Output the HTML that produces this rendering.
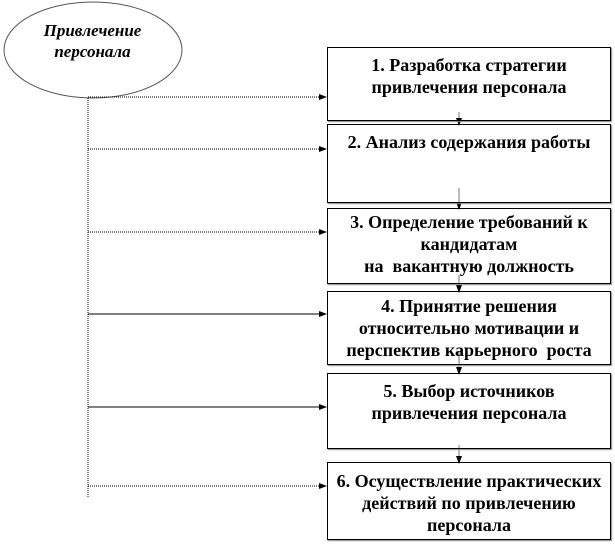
<!DOCTYPE html><html><head><meta charset="utf-8"><style>
body{margin:0;width:615px;height:544px;background:#fff;position:relative;overflow:hidden;font-family:"Liberation Serif",serif}
.b{position:absolute;left:327px;width:284px;border:1px solid #000;box-sizing:border-box;text-align:center;font-weight:bold;font-size:18px;line-height:22px;padding-top:6px;box-shadow:1px 1px 1px #888;white-space:nowrap}
</style></head><body>
<svg width="615" height="544" style="position:absolute;left:0;top:0">
<defs><marker id="a" markerWidth="8" markerHeight="8" refX="7" refY="4" orient="auto" markerUnits="userSpaceOnUse"><path d="M0,1 L8,4 L0,7z" fill="#000"/></marker></defs>
<ellipse cx="93" cy="50" rx="89" ry="48" fill="#fff" stroke="#555" stroke-width="1"/>
<line x1="88" y1="98" x2="88" y2="497" stroke="#000" stroke-dasharray="1,1"/>
<g stroke="#000" stroke-dasharray="1,1" marker-end="url(#a)">
<line x1="88" y1="97" x2="326" y2="97"/><line x1="88" y1="149" x2="326" y2="149"/><line x1="88" y1="232" x2="326" y2="232"/>
<line x1="88" y1="486" x2="326" y2="486"/></g>
<g stroke="#000" marker-end="url(#a)"><line x1="88" y1="314" x2="326" y2="314"/><line x1="88" y1="407" x2="326" y2="407"/></g>
<g stroke="#777" marker-end="url(#a)"><line x1="459" y1="112" x2="459" y2="125"/><line x1="459" y1="188" x2="459" y2="209"/><line x1="459" y1="275" x2="459" y2="292"/><line x1="459" y1="352" x2="459" y2="374"/><line x1="459" y1="445" x2="459" y2="463"/></g>
</svg>
<div style="position:absolute;left:10px;top:20px;width:165px;text-align:center;font-style:italic;font-weight:bold;font-size:17px;line-height:21px">Привлечение персонала</div>
<div class="b" style="top:47px;height:74px">1. Разработка стратегии<br>привлечения персонала</div>
<div class="b" style="top:124px;height:79px">2. Анализ содержания работы</div>
<div class="b" style="top:208px;height:76px;padding-top:2px">3. Определение требований к<br>кандидатам<br>на&nbsp; вакантную должность</div>
<div class="b" style="top:291px;height:74px;padding-top:3px">4. Принятие решения<br>относительно мотивации и<br>перспектив карьерного&nbsp; роста</div>
<div class="b" style="top:373px;height:76px">5. Выбор источников<br>привлечения персонала</div>
<div class="b" style="top:462px;height:78px;padding-top:7px">6. Осуществление практических<br>действий по привлечению<br>персонала</div>
</body></html>
